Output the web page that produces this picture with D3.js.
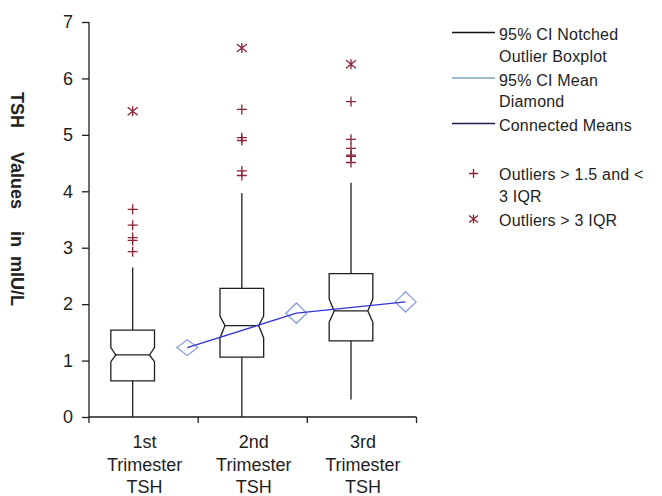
<!DOCTYPE html>
<html>
<head>
<meta charset="utf-8">
<script src="https://cdn.jsdelivr.net/npm/d3@7"></script>
<style>
  html, body { margin: 0; padding: 0; background: #fff; }
  svg { display: block; font-family: "Liberation Sans", Arial, sans-serif; }
</style>
</head>
<body>
<svg id="chart" width="662" height="496"></svg>
<script>
// TSH by trimester: notched outlier boxplots, mean diamonds, connected means
const categories = ["1st Trimester TSH", "2nd Trimester TSH", "3rd Trimester TSH"];
const categoryLines = [["1st", "Trimester", "TSH"], ["2nd", "Trimester", "TSH"], ["3rd", "Trimester", "TSH"]];
const whiskerLow = [0, 0, 0.31];
const q1 = [0.64, 1.06, 1.35];
const median = [1.10, 1.62, 1.88];
const q3 = [1.54, 2.28, 2.54];
const whiskerHigh = [2.65, 3.97, 4.15];
const notchLow = [0.98, 1.40, 1.68];
const notchHigh = [1.23, 1.79, 2.09];
const means = [1.23, 1.84, 2.04];
const meanCILow = [1.09, 1.66, 1.86];
const meanCIHigh = [1.37, 2.02, 2.22];
const mildOutliers = [
  [2.93, 3.13, 3.18, 3.40, 3.68],
  [4.28, 4.36, 4.90, 4.95, 5.45],
  [4.51, 4.62, 4.64, 4.76, 4.92, 5.59]
];
const extremeOutliers = [[5.42], [6.54], [6.25]];
const yTicks = [0, 1, 2, 3, 4, 5, 6, 7];
const yTitleWords = ["TSH", "Values", "in", "mIU/L"];
const legendLines = [
  { lines: ["95% CI Notched", "Outlier Boxplot"], color: "#111111" },
  { lines: ["95% CI Mean", "Diamond"], color: "#7fa6c6" },
  { lines: ["Connected Means"], color: "#1c1c4c" }
];
const legendMarkers = [
  { lines: ["Outliers > 1.5 and <", "3 IQR"], kind: "plus" },
  { lines: ["Outliers > 3 IQR"], kind: "star" }
];

const ink = "#1e1e1e";
const outlierColor = "#8c2035";
const svg = d3.select("#chart");

const y = d3.scaleLinear().domain([0, 7]).range([417, 22]);
const x = d3.scaleBand().domain(categories).range([89, 416.5]);
const bw = x.bandwidth();
const boxHalf = bw * 0.2;          // box half-width
const boxShift = -bw * 0.1;        // boxes sit left of band centre
const diamondShift = bw * 0.4;     // mean diamonds sit right of band centre
const diamondHalf = 10.5;
const notchIndent = 5;

const boxX = (i) => x(categories[i]) + bw / 2 + boxShift;
const diamondX = (i) => x(categories[i]) + bw / 2 + diamondShift;

// Y axis
const yAxis = svg.append("g").attr("transform", "translate(89,0)")
  .call(d3.axisLeft(y).tickValues(yTicks).tickFormat(d3.format("d")).tickSize(7).tickPadding(9));
yAxis.select(".domain").attr("d", `M0,${y(7)}V${y(0) + 6}`);
yAxis.selectAll("line, path").attr("stroke", ink).attr("stroke-width", 1.3);
yAxis.selectAll("text").attr("font-size", 18).attr("fill", ink)
  .attr("font-family", "Liberation Sans, Arial, sans-serif");

// X axis: ticks at band boundaries, labels centred in bands
const xAxis = svg.append("g").attr("transform", `translate(0,${y(0)})`);
xAxis.append("path").attr("d", `M${x.range()[0]},0H${x.range()[1]}`)
  .attr("stroke", ink).attr("stroke-width", 1.3).attr("fill", "none");
const bounds = categories.map(c => x(c)).concat([x.range()[1]]);
xAxis.selectAll("line.tk").data(bounds.slice(1)).join("line")
  .attr("class", "tk").attr("x1", d => d).attr("x2", d => d).attr("y1", 0).attr("y2", 6)
  .attr("stroke", ink).attr("stroke-width", 1.3);
xAxis.selectAll("text.cat").data(categories).join("text")
  .attr("class", "cat")
  .attr("text-anchor", "middle").attr("font-size", 18).attr("fill", ink)
  .each(function (d, i) {
    const t = d3.select(this);
    categoryLines[i].forEach((ln, k) => {
      t.append("tspan").attr("x", x(d) + bw / 2 + 1).attr("y", 31 + k * 22.5).text(ln);
    });
  });

// Boxes
const boxes = svg.append("g");
categories.forEach((c, i) => {
  const cx = boxX(i);
  const g = boxes.append("g");
  // whiskers
  g.append("line").attr("x1", cx).attr("x2", cx).attr("y1", y(q3[i])).attr("y2", y(whiskerHigh[i]))
    .attr("stroke", ink).attr("stroke-width", 1.3);
  g.append("line").attr("x1", cx).attr("x2", cx).attr("y1", y(q1[i])).attr("y2", y(whiskerLow[i]))
    .attr("stroke", ink).attr("stroke-width", 1.3);
  // notched box
  const L = cx - boxHalf, R = cx + boxHalf;
  const p = d3.path();
  p.moveTo(L, y(q3[i]));
  p.lineTo(R, y(q3[i]));
  p.lineTo(R, y(notchHigh[i]));
  p.lineTo(R - notchIndent, y(median[i]));
  p.lineTo(R, y(notchLow[i]));
  p.lineTo(R, y(q1[i]));
  p.lineTo(L, y(q1[i]));
  p.lineTo(L, y(notchLow[i]));
  p.lineTo(L + notchIndent, y(median[i]));
  p.lineTo(L, y(notchHigh[i]));
  p.closePath();
  g.append("path").attr("d", p.toString()).attr("fill", "none")
    .attr("stroke", ink).attr("stroke-width", 1.3).attr("stroke-linejoin", "miter");
  g.append("line").attr("x1", L + notchIndent).attr("x2", R - notchIndent)
    .attr("y1", y(median[i])).attr("y2", y(median[i]))
    .attr("stroke", ink).attr("stroke-width", 1.3);
});

// Outlier marker shapes
function plusPath(cx, cy, s) {
  return `M${cx - s},${cy}H${cx + s}M${cx},${cy - s}V${cy + s}`;
}
function starPath(cx, cy, s) {
  return `M${cx - s},${cy - s * 0.8}L${cx + s},${cy + s * 0.8}` +
         `M${cx - s},${cy + s * 0.8}L${cx + s},${cy - s * 0.8}` +
         `M${cx},${cy - s}V${cy + s}`;
}
const outs = svg.append("g").attr("stroke", outlierColor).attr("stroke-width", 1.3).attr("fill", "none");
categories.forEach((c, i) => {
  mildOutliers[i].forEach(v => outs.append("path").attr("d", plusPath(boxX(i), y(v), 5)));
  extremeOutliers[i].forEach(v => outs.append("path").attr("d", starPath(boxX(i), y(v), 5)));
});

// Mean diamonds
const dia = svg.append("g");
categories.forEach((c, i) => {
  const cx = diamondX(i);
  dia.append("path")
    .attr("d", `M${cx - diamondHalf},${y(means[i])}L${cx},${y(meanCIHigh[i])}L${cx + diamondHalf},${y(means[i])}L${cx},${y(meanCILow[i])}Z`)
    .attr("fill", "none").attr("stroke", "#8a9ee2").attr("stroke-width", 1.3);
});

// Connected means
const meanLine = d3.line().x((d, i) => diamondX(i)).y(d => y(d));
svg.append("path").attr("d", meanLine(means))
  .attr("fill", "none").attr("stroke", "#3434d6").attr("stroke-width", 1.4);

// Y title, reading top to bottom
const yTitle = svg.append("text")
  .attr("transform", "translate(11,92) rotate(90)")
  .attr("font-size", 18).attr("font-weight", "bold").attr("fill", "#222");
const gaps = [0, 24, 22, 9];
yTitleWords.forEach((w, k) => {
  yTitle.append("tspan").attr("dx", gaps[k]).text(w);
});

// Legend
const leg = svg.append("g").attr("font-size", 16).attr("fill", ink);
const lineRow = 21.5;
let ly = 40;
legendLines.forEach(item => {
  leg.append("line").attr("x1", 452).attr("x2", 495).attr("y1", ly - 7.5).attr("y2", ly - 7.5)
    .attr("stroke", item.color).attr("stroke-width", 1.3);
  item.lines.forEach((ln, k) => {
    leg.append("text").attr("x", 499).attr("y", ly + k * lineRow).attr("letter-spacing", 0.2).text(ln);
  });
  ly += item.lines.length * lineRow + 2.5;
});
ly = 180;
legendMarkers.forEach(item => {
  const my = ly - 6.5;
  leg.append("path")
    .attr("d", item.kind === "plus" ? plusPath(473.5, my, 4.5) : starPath(473.5, my, 4.5))
    .attr("stroke", outlierColor).attr("stroke-width", 1.3).attr("fill", "none");
  item.lines.forEach((ln, k) => {
    leg.append("text").attr("x", 499).attr("y", ly + k * lineRow).attr("letter-spacing", 0.2).text(ln);
  });
  ly += item.lines.length * lineRow + 2.5;
});
</script>
</body>
</html>
